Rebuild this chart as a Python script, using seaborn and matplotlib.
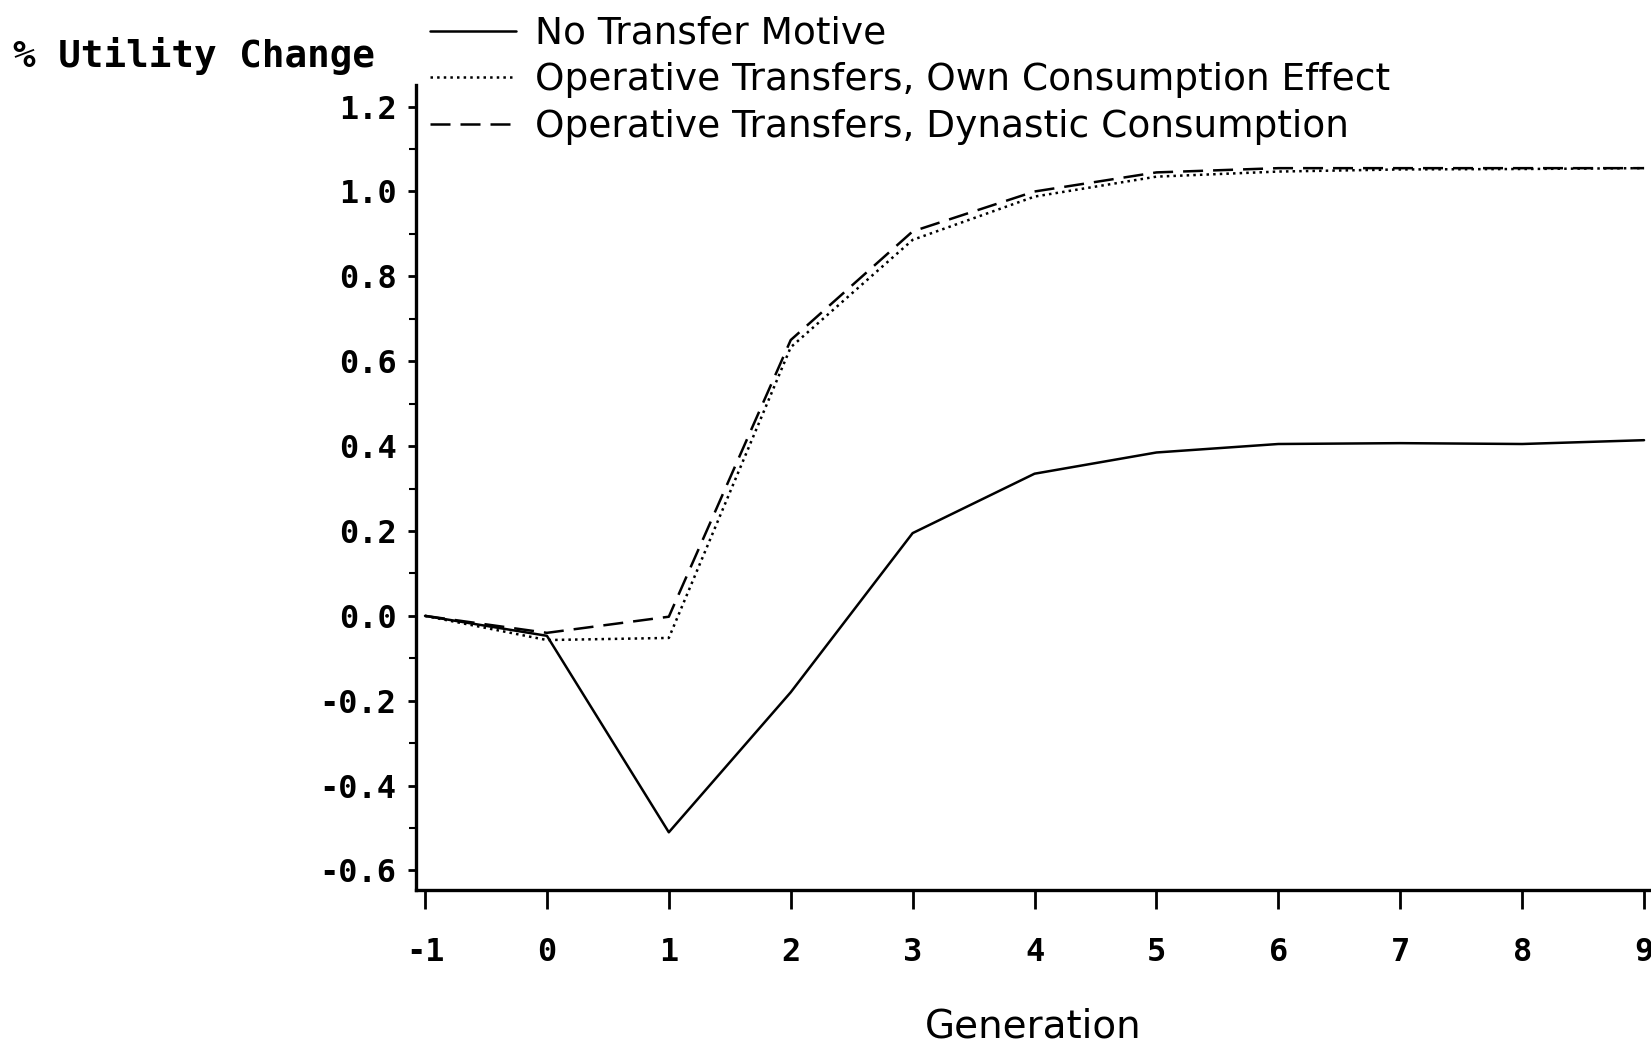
import numpy as np
import pandas as pd
import matplotlib
matplotlib.use("Agg")
import matplotlib.pyplot as plt
import seaborn as sns

# data
generation = [-1, 0, 1, 2, 3, 4, 5, 6, 7, 8, 9]
no_transfer = [0.0, -0.047, -0.51, -0.18, 0.195, 0.335, 0.385, 0.405, 0.407, 0.405, 0.414]
own_consumption = [0.0, -0.057, -0.052, 0.633, 0.886, 0.988, 1.035, 1.047, 1.052, 1.053, 1.055]
dynastic = [0.0, -0.04, -0.002, 0.65, 0.906, 1.0, 1.045, 1.055, 1.055, 1.055, 1.055]

series_names = ["No Transfer Motive",
                "Operative Transfers, Own Consumption Effect",
                "Operative Transfers, Dynastic Consumption"]
y_ticks = [-0.6, -0.4, -0.2, 0.0, 0.2, 0.4, 0.6, 0.8, 1.0, 1.2]

sns.set_style("ticks")
plt.rcParams["font.family"] = ["DejaVu Sans"]
plt.rcParams.update({"text.color": "black", "axes.labelcolor": "black",
                     "xtick.color": "black", "ytick.color": "black",
                     "axes.edgecolor": "black"})

fig = plt.figure(figsize=(16.51, 10.44), dpi=100)
ax = fig.add_axes([416 / 1651, 0.1475, 1 - 416 / 1651, 0.9186 - 0.1475])

styles = [(None, "-"), (None, ":"), ((8, 4), "--")]
for vals, name, (dash, ls) in zip([no_transfer, own_consumption, dynastic], series_names, styles):
    df = pd.DataFrame({"Generation": generation, "Change": vals})
    sns.lineplot(data=df, x="Generation", y="Change", ax=ax, color="black",
                 linewidth=1.8, label=name, linestyle=ls)
    if dash is not None:
        ax.lines[-1].set_dashes(dash)

ax.set_xlim(-1.074, 9.057)
ax.set_ylim(-0.646, 1.251)
ax.set_xticks(generation)
ax.set_xticklabels([str(g) for g in generation])
ax.set_yticks(y_ticks)
ax.set_yticklabels([f"{t:.1f}" for t in y_ticks])
ax.set_yticks(np.arange(-0.5, 1.25, 0.2), minor=True)

for lab in ax.get_xticklabels() + ax.get_yticklabels():
    lab.set_family("DejaVu Sans Mono")
    lab.set_fontweight("bold")
    lab.set_fontsize(23)

ax.tick_params(axis="x", which="major", direction="out", length=14, width=2, pad=20)
ax.tick_params(axis="y", which="major", direction="out", length=6, width=2, pad=8)
ax.tick_params(axis="y", which="minor", direction="out", length=5, width=1.5)

sns.despine(ax=ax)
for sp in ["left", "bottom"]:
    ax.spines[sp].set_linewidth(2.4)

ax.set_xlabel("Generation", fontsize=28, labelpad=28)
ax.set_ylabel("")
fig.text(13 / 1651, 1 - 56 / 1044, "% Utility Change", family="DejaVu Sans Mono",
         fontweight="bold", fontsize=27, va="center", ha="left")

leg = ax.legend(loc="upper left", bbox_to_anchor=(430 / 1651, 1 - 16 / 1044),
                bbox_transform=fig.transFigure, frameon=False, fontsize=27,
                handlelength=2.3, handletextpad=0.5, labelspacing=0.28,
                borderaxespad=0, borderpad=0)
for h in leg.get_lines():
    h.set_linewidth(1.8)

fig.savefig("out.png", dpi=100)
